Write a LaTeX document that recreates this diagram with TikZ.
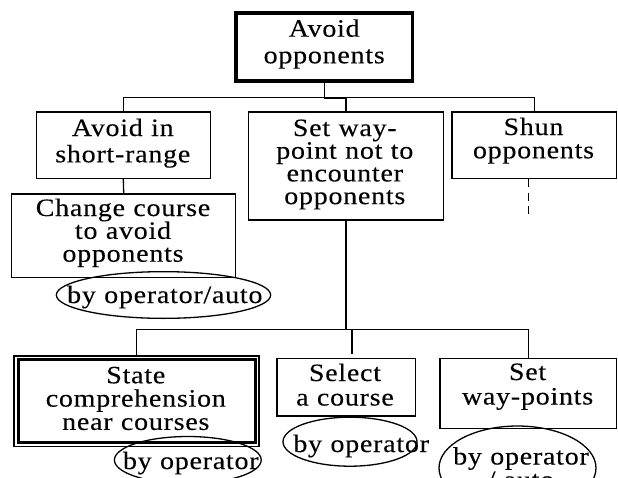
\documentclass[tikz,border=0pt]{standalone}
\usepackage{fontspec}
\setmainfont{Liberation Serif}[LetterSpace=3,FakeStretch=1.12,FakeBold=0.2]
\usetikzlibrary{shapes.geometric}
\begin{document}
\begin{tikzpicture}[x=1pt,y=-1pt,line width=1.3pt,
  box/.style={draw,rectangle,inner sep=0pt,line width=1.3pt},
  oval/.style={draw,ellipse,inner sep=0pt,line width=1.3pt},
  txt/.style={anchor=base,inner sep=0pt,text width=240pt,align=center,font=\fontsize{25}{23.3}\selectfont},
  link/.style={line width=1.3pt}]
\fill[white] (0,0) rectangle (618,477);
\useasboundingbox (0,0) rectangle (618,477);
\clip (0,0) rectangle (618,477);
% boxes
\node[box,line width=3.8pt,minimum width=176.4pt,minimum height=68.3pt] (top) at (324.2,47.2) {};
\node[box,minimum width=174pt,minimum height=66.3pt] (avoid) at (123.3,145.2) {};
\node[box,minimum width=194.6pt,minimum height=108pt] (setwp) at (345.9,166) {};
\node[box,minimum width=164.5pt,minimum height=66.3pt] (shun) at (534.15,145.2) {};
\node[box,minimum width=223.8pt,minimum height=83.7pt] (change) at (123.7,235.9) {};
\node[box,line width=1.7pt,minimum width=245pt,minimum height=90.7pt] (state) at (136.8,401.2) {};
\draw[line width=2.7pt] ([shift={(4.8,4.8)}]state.north west) rectangle ([shift={(-4.8,-4.8)}]state.south east);
\node[box,minimum width=138.5pt,minimum height=57.5pt] (select) at (346.25,387.25) {};
\node[box,minimum width=176.4pt,minimum height=70pt] (setpts) at (528.2,393.3) {};
% ellipses
\node[oval,minimum width=214.3pt,minimum height=46.7pt] (e1) at (163.5,295) {};
\node[oval,minimum width=146.8pt,minimum height=47pt] (e2) at (187.8,460) {};
\node[oval,minimum width=134pt,minimum height=49pt] (e3) at (350,441.7) {};
\node[oval,minimum width=157pt,minimum height=84pt] (e4) at (517.5,468) {};
% texts
\node[txt,font=\fontsize{25}{26.6}\selectfont] (ttop) at (324.2,36.7) {Avoid\\opponents};
\node[txt,font=\fontsize{25}{26.3}\selectfont] (tavoid) at (122.8,136) {Avoid in\\short-range};
\node[txt,font=\fontsize{25}{22.7}\selectfont] (tsetwp) at (344.8,136) {Set way-\\point not to\\encounter\\opponents};
\node[txt] (tshun) at (533.5,135) {Shun\\opponents};
\node[txt,font=\fontsize{25}{22.85}\selectfont] (tchange) at (123,216) {Change course\\to avoid\\opponents};
\node[txt] (tstate) at (135.8,383.3) {State\\comprehension\\near courses};
\node[txt,font=\fontsize{25}{24.5}\selectfont] (tselect) at (345,381) {Select\\a course};
\node[txt,font=\fontsize{25}{24.5}\selectfont] (tsetpts) at (527.6,380) {Set\\way-points};
\node[txt] (te1) at (164.8,303) {by operator/auto};
\node[txt] (te2) at (190.8,469) {by operator};
\node[txt] (te3) at (361.2,452) {by operator};
\node[txt,font=\fontsize{25}{23.5}\selectfont] (te4) at (521,464.5) {by operator\\/ auto};
% connectors
\coordinate (j1) at (324.2,97.7);
\coordinate (j2) at (345.9,329.3);
\coordinate (s1) at (352,353.5);
\coordinate (d1) at (528.8,215);
\draw[link] (top.south) -- (j1);
\draw[link] (avoid.north) |- (j1) -| (shun.north);
\draw[line width=2.4pt] ([yshift=-0.5pt]j1) -- ([yshift=-0.5pt]j1 -| setwp.north);
\draw[link] (j1 -| setwp.north) -- (setwp.north);
\draw[link] (avoid.south) -- (change.north);
\draw[link,dash pattern=on 8pt off 5.5pt] (shun.south -| d1) -- (d1);
\draw[link] (setwp.south) -- (j2);
\draw[link] (state.north) |- (j2) -| (setpts.north);
\draw[link] (j2 -| s1) -- (s1);
\end{tikzpicture}
\end{document}
